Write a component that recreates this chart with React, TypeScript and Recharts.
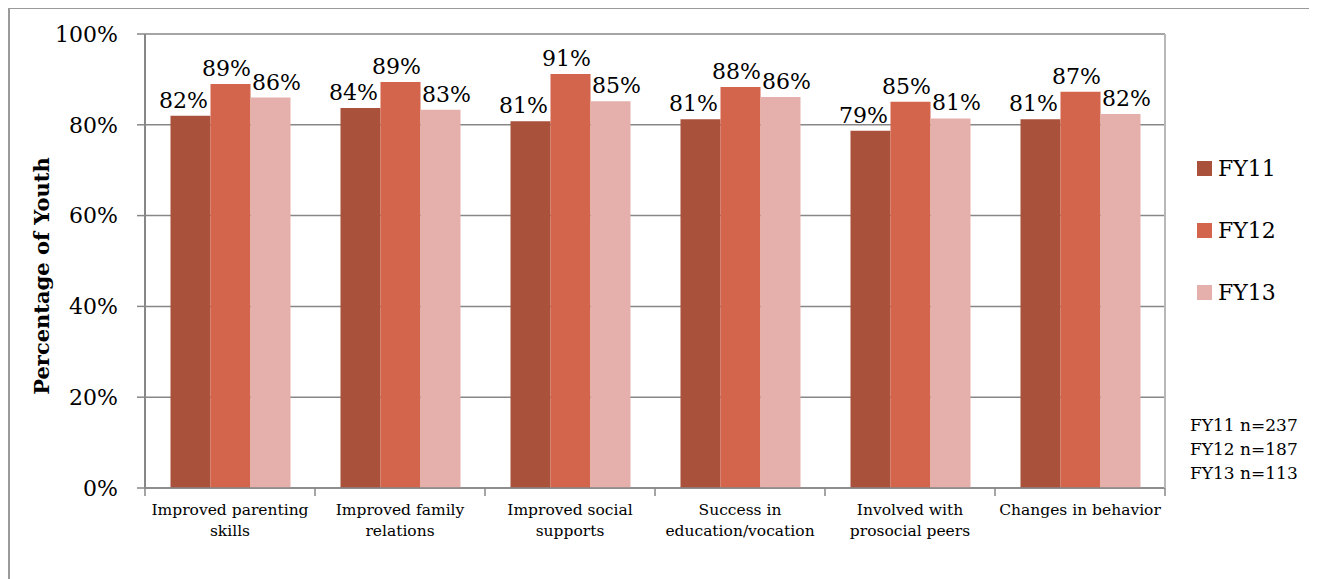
import { BarChart, Bar, XAxis, YAxis, CartesianGrid, LabelList, Legend } from 'recharts';

const CATEGORIES = [
    'Improved parenting skills',
    'Improved family relations',
    'Improved social supports',
    'Success in education/vocation',
    'Involved with prosocial peers',
    'Changes in behavior',
];
const TICK_LINES = [
    ['Improved parenting', 'skills'],
    ['Improved family', 'relations'],
    ['Improved social', 'supports'],
    ['Success in', 'education/vocation'],
    ['Involved with', 'prosocial peers'],
    ['Changes in behavior'],
];
const FY11 = [82, 83.7, 80.8, 81.2, 78.7, 81.2];
const FY12 = [89, 89.4, 91.2, 88.3, 85.1, 87.3];
const FY13 = [86, 83.3, 85.2, 86.1, 81.4, 82.4];
const Y_TICKS = [0, 20, 40, 60, 80, 100];
const SAMPLE_SIZES = ['FY11 n=237', 'FY12 n=187', 'FY13 n=113'];

const FONT = '"DejaVu Serif", serif';
const AXIS_GRAY = '#878787';
const PLOT_W = 1020;

const data = CATEGORIES.map((name, i) => ({
    name,
    FY11: FY11[i],
    FY12: FY12[i],
    FY13: FY13[i],
}));

const pct = (v: number) => `${Math.round(v)}%`;

const CategoryTick = (props: any) => {
    const { x, y, payload, index } = props;
    const half = PLOT_W / CATEGORIES.length / 2;
    const lines = TICK_LINES[index] ?? [String(payload.value)];
    return (
        <g>
            <line x1={x - half} y1={y} x2={x - half} y2={y + 8} stroke={AXIS_GRAY} strokeWidth={1.5} />
            {index === CATEGORIES.length - 1 && (
                <line x1={x + half} y1={y} x2={x + half} y2={y + 8} stroke={AXIS_GRAY} strokeWidth={1.5} />
            )}
            {lines.map((ln: string, i: number) => (
                <text
                    key={i}
                    x={x}
                    y={y + 27 + i * 21}
                    textAnchor='middle'
                    fontSize={15.5}
                    fontFamily={FONT}
                    fill='#000'
                >
                    {ln}
                </text>
            ))}
        </g>
    );
};

const LegendBox = ({ payload }: any) => (
    <div style={{ fontFamily: FONT, fontSize: 22, color: '#000' }}>
        {(payload || []).map((entry: any) => (
            <div key={entry.value} style={{ height: 62, display: 'flex', alignItems: 'center' }}>
                <span style={{ width: 15, height: 15, background: entry.color, display: 'inline-block', marginRight: 6 }} />
                <span>{entry.value}</span>
            </div>
        ))}
    </div>
);

const YTitle = () => (
    <text
        x={33}
        y={268}
        transform='rotate(-90 33 268)'
        textAnchor='middle'
        dominantBaseline='central'
        fontFamily={FONT}
        fontWeight='bold'
        fontSize={21}
        fill='#000'
    >
        Percentage of Youth
    </text>
);

export default function App() {
    return (
        <div style={{ position: 'relative', width: 1309, height: 571, fontFamily: FONT }}>
            <div
                style={{
                    position: 'absolute',
                    left: 0,
                    top: -1,
                    width: 1320,
                    height: 580,
                    borderTop: '2px solid #9a9a9a',
                    borderLeft: '2px solid #9a9a9a',
                    boxSizing: 'border-box',
                }}
            />
            <BarChart
                width={1300}
                height={565}
                data={data}
                margin={{ top: 26, right: 142, bottom: 25, left: 7 }}
                barCategoryGap='15%'
                barGap={0}
                style={{ position: 'absolute', left: 0, top: 0 }}
            >
                <CartesianGrid vertical={false} stroke={AXIS_GRAY} strokeWidth={1.5} />
                <XAxis
                    dataKey='name'
                    height={60}
                    interval={0}
                    tickLine={false}
                    tickSize={0}
                    tickMargin={0}
                    axisLine={{ stroke: AXIS_GRAY, strokeWidth: 1.5 }}
                    tick={<CategoryTick />}
                />
                <YAxis
                    width={130}
                    domain={[0, 100]}
                    ticks={Y_TICKS}
                    tickFormatter={(v: number) => `${v}%`}
                    tickSize={8}
                    tickMargin={19}
                    tickLine={{ stroke: AXIS_GRAY, strokeWidth: 1.5 }}
                    axisLine={{ stroke: AXIS_GRAY, strokeWidth: 2 }}
                    tick={{ fill: '#000', fontSize: 22, fontFamily: FONT }}
                    label={<YTitle />}
                />
                <YAxis
                    yAxisId='right'
                    orientation='right'
                    width={1}
                    tick={false}
                    tickLine={false}
                    axisLine={{ stroke: '#b8b8b8', strokeWidth: 2 }}
                />
                <Legend
                    layout='horizontal'
                    verticalAlign='middle'
                    align='center'
                    content={<LegendBox />}
                    wrapperStyle={{ left: 1189, top: 129, width: 100, height: 186 }}
                />
                <Bar dataKey='FY11' name='FY11' fill='#AA513B' isAnimationActive={false}>
                    <LabelList dataKey='FY11' position='top' offset={8} dx={-7} formatter={pct} fill='#000' fontSize={22} fontFamily={FONT} />
                </Bar>
                <Bar dataKey='FY12' name='FY12' fill='#D3654C' isAnimationActive={false}>
                    <LabelList dataKey='FY12' position='top' offset={8} dx={-4} formatter={pct} fill='#000' fontSize={22} fontFamily={FONT} />
                </Bar>
                <Bar dataKey='FY13' name='FY13' fill='#E5B0AB' isAnimationActive={false}>
                    <LabelList dataKey='FY13' position='top' offset={8} dx={6} formatter={pct} fill='#000' fontSize={22} fontFamily={FONT} />
                </Bar>
            </BarChart>
            <div
                style={{
                    position: 'absolute',
                    left: 1182,
                    top: 405,
                    fontSize: 17,
                    lineHeight: '24px',
                    color: '#000',
                    whiteSpace: 'nowrap',
                }}
            >
                {SAMPLE_SIZES.map((s) => (
                    <div key={s}>{s}</div>
                ))}
            </div>
        </div>
    );
}
